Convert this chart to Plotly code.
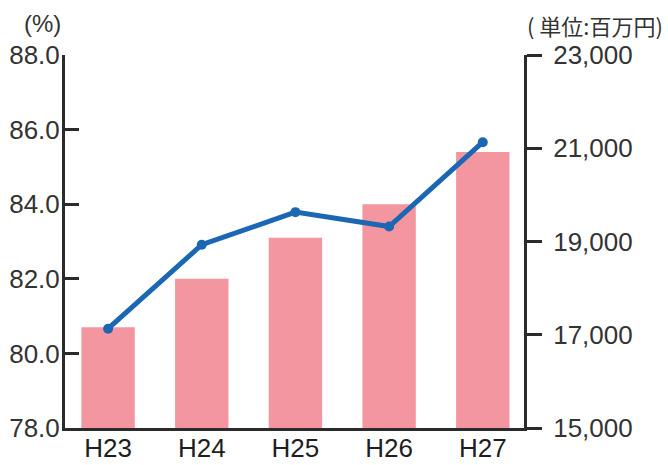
import plotly.graph_objects as go

# Fiscal years (Heisei)
years = ["H23", "H24", "H25", "H26", "H27"]
# Ratio (%), left axis — bars
ratio_pct = [80.7, 82.0, 83.1, 84.0, 85.4]
# Amount (million yen), right axis — line
amount_myen = [17130, 18930, 19630, 19320, 21130]

left_ticks = [78, 80, 82, 84, 86, 88]
right_ticks = [15000, 17000, 19000, 21000, 23000]

AXIS = "#2b2b2b"
TEXT = "#333333"
FONT = "Liberation Sans, Arial, sans-serif"

fig = go.Figure()

fig.add_trace(go.Bar(
    x=years, y=ratio_pct, yaxis="y",
    marker=dict(color="#F4969F", line=dict(width=0)),
    width=0.57, hoverinfo="x+y",
))

fig.add_trace(go.Scatter(
    x=years, y=amount_myen, yaxis="y2",
    mode="lines+markers",
    line=dict(color="#1B67B3", width=5),
    marker=dict(color="#1B67B3", size=10),
))

fig.update_layout(
    width=668, height=465,
    margin=dict(l=65, r=144, t=55, b=37, autoexpand=False),
    paper_bgcolor="white", plot_bgcolor="white",
    showlegend=False,
    font=dict(family=FONT, size=26, color=TEXT),
    xaxis=dict(
        range=[-0.46, 4.44], automargin=False,
        showline=True, linewidth=3, linecolor=AXIS,
        ticks="", showgrid=False, zeroline=False,
        ticklabelstandoff=-5,
        tickfont=dict(size=26, color="#1e1e1e"),
    ),
    yaxis=dict(
        range=[78, 88], tickvals=left_ticks, automargin=False,
        ticktext=[f"{v:.1f}" for v in left_ticks],
        showline=True, linewidth=3, linecolor=AXIS,
        ticks="inside", ticklen=14, tickwidth=3, tickcolor=AXIS,
        ticklabelstandoff=-3,
        showgrid=False, zeroline=False,
        tickfont=dict(size=26, color=TEXT),
    ),
    yaxis2=dict(
        range=[15000, 23000], tickvals=right_ticks, automargin=False,
        ticktext=[f"{v:,}" for v in right_ticks],
        overlaying="y", side="right", anchor="x",
        showline=True, linewidth=3, linecolor=AXIS,
        ticks="outside", ticklen=15, tickwidth=3, tickcolor=AXIS,
        ticklabelstandoff=6,
        showgrid=False, zeroline=False,
        tickfont=dict(size=26, color=TEXT),
    ),
    annotations=[
        dict(text="(%)", xref="paper", yref="paper", x=-0.05, y=1.085,
             xanchor="center", yanchor="middle", showarrow=False,
             font=dict(size=24, color=TEXT, family=FONT)),
        dict(text="( 単位:百万円)", xref="paper", yref="paper", x=1.307, y=1.08,
             xanchor="right", yanchor="middle", showarrow=False,
             font=dict(size=22, color=TEXT, family="Noto Sans CJK JP")),
    ],
)

fig.write_html("out.html")
